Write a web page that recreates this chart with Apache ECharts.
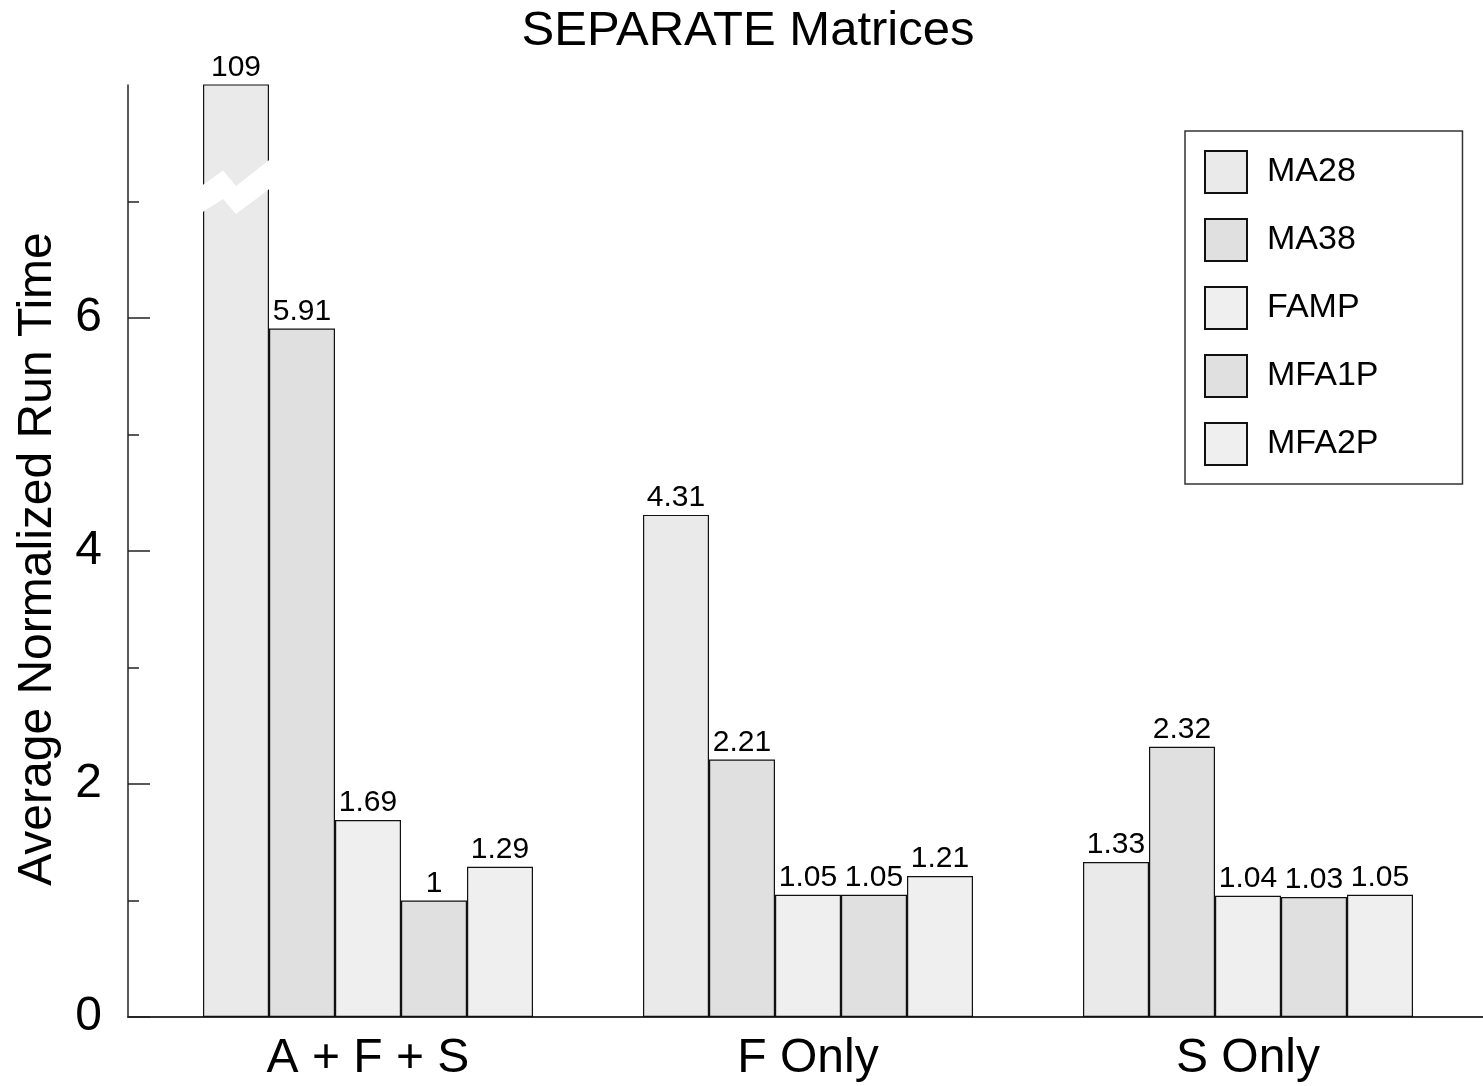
<!DOCTYPE html>
<html>
<head>
<meta charset="utf-8">
<script src="https://cdn.jsdelivr.net/npm/echarts@6/dist/echarts.min.js"></script>
<style>
html,body{margin:0;padding:0;background:#fff;}
#chart{width:1483px;height:1086px;}
</style>
</head>
<body>
<div id="chart"></div>
<script>
const categories = ['A + F + S', 'F Only', 'S Only'];
const seriesNames = ['MA28', 'MA38', 'FAMP', 'MFA1P', 'MFA2P'];
const ma28 = [109, 4.31, 1.33];
const ma38 = [5.91, 2.21, 2.32];
const famp = [1.69, 1.05, 1.04];
const mfa1p = [1, 1.05, 1.03];
const mfa2p = [1.29, 1.21, 1.05];
const yTickValues = [0, 2, 4, 6];
const yMax = 8;

const seriesValues = [ma28, ma38, famp, mfa1p, mfa2p];
const colors = ['#eaeaea', '#e0e0e0', '#efefef', '#e0e0e0', '#efefef'];
const FONT = "'Liberation Sans', Arial, sans-serif";

const chart = echarts.init(document.getElementById('chart'));

const option = {
  animation: false,
  backgroundColor: '#fff',
  textStyle: { fontFamily: FONT, color: '#000' },
  title: {
    text: 'SEPARATE Matrices',
    left: 743,
    textAlign: 'center',
    top: 2,
    textStyle: { fontFamily: FONT, fontSize: 49, fontWeight: 'normal', color: '#000' }
  },
  legend: {
    orient: 'vertical',
    left: 1185,
    top: 131,
    itemWidth: 42,
    itemHeight: 42,
    itemGap: 24,
    icon: 'rect',
    padding: [19, 84, 18, 19],
    backgroundColor: '#fff',
    borderColor: '#333',
    borderWidth: 1.5,
    selectedMode: false,
    data: seriesNames,
    textStyle: { fontFamily: FONT, fontSize: 34, color: '#000', padding: [0, 0, 0, 15] }
  },
  grid: [
    { left: 148, right: 15, top: 85, bottom: 69 },
    { left: 128, right: 0, top: 85, bottom: 69 }
  ],
  xAxis: [
    {
      type: 'category',
      gridIndex: 0,
      data: categories,
      axisLine: { show: false },
      axisTick: { show: false },
      axisLabel: { fontFamily: FONT, fontSize: 48, color: '#000', margin: 18 }
    },
    {
      type: 'category',
      gridIndex: 1,
      data: [''],
      axisLine: { show: true, lineStyle: { color: '#333', width: 2 } },
      axisTick: { show: false },
      axisLabel: { show: false }
    }
  ],
  yAxis: [
    {
      type: 'value',
      gridIndex: 0,
      min: 0,
      max: yMax,
      interval: 2,
      show: false
    },
    {
      type: 'value',
      gridIndex: 1,
      min: 0,
      max: yMax,
      interval: 2,
      name: 'Average Normalized Run Time',
      nameLocation: 'middle',
      nameGap: 66,
      nameTextStyle: { fontFamily: FONT, fontSize: 48, color: '#000', padding: [0, 16, 0, 0] },
      axisLine: { show: true, lineStyle: { color: '#222', width: 1.5 } },
      axisTick: { show: true, inside: true, length: 22, customValues: yTickValues, lineStyle: { color: '#222', width: 1.5 } },
      minorTick: { show: true, splitNumber: 2, length: 11, lineStyle: { color: '#222', width: 1.5 } },
      axisLabel: {
        customValues: yTickValues,
        fontFamily: FONT, fontSize: 48, color: '#000', margin: 26,
        formatter: v => (yTickValues.indexOf(v) >= 0 ? String(v) : '')
      },
      splitLine: { show: false }
    }
  ],
  series: seriesNames.map((name, i) => ({
    name: name,
    type: 'bar',
    xAxisIndex: 0,
    yAxisIndex: 0,
    data: seriesValues[i],
    barGap: '0%',
    barCategoryGap: '25%',
    itemStyle: { color: colors[i], borderColor: '#111', borderWidth: 1.2 },
    label: {
      show: true,
      position: 'top',
      distance: 2,
      fontFamily: FONT,
      fontSize: 30,
      color: '#000'
    },
    z: 2
  }))
};

chart.setOption(option);

// axis-break marker on the clipped MA28 bar (derived from the library's layout)
const lay = chart.getModel().getSeriesByIndex(0).getData().getItemLayout(0);
const x0 = lay.x;
const w = lay.width;
const yRef = chart.convertToPixel({ yAxisIndex: 0 }, 7);
chart.setOption({
  graphic: [{
    type: 'polygon',
    z: 100,
    shape: {
      points: [
        [x0 - 3, yRef - 14.4],
        [x0 + 20, yRef - 31],
        [x0 + 33, yRef - 15.5],
        [x0 + w + 3, yRef - 43.8],
        [x0 + w + 3, yRef - 14.5],
        [x0 + 33, yRef + 12.5],
        [x0 + 20, yRef - 2.5],
        [x0 - 3, yRef + 12.2]
      ]
    },
    style: { fill: '#fff', stroke: null }
  }]
});
</script>
</body>
</html>
